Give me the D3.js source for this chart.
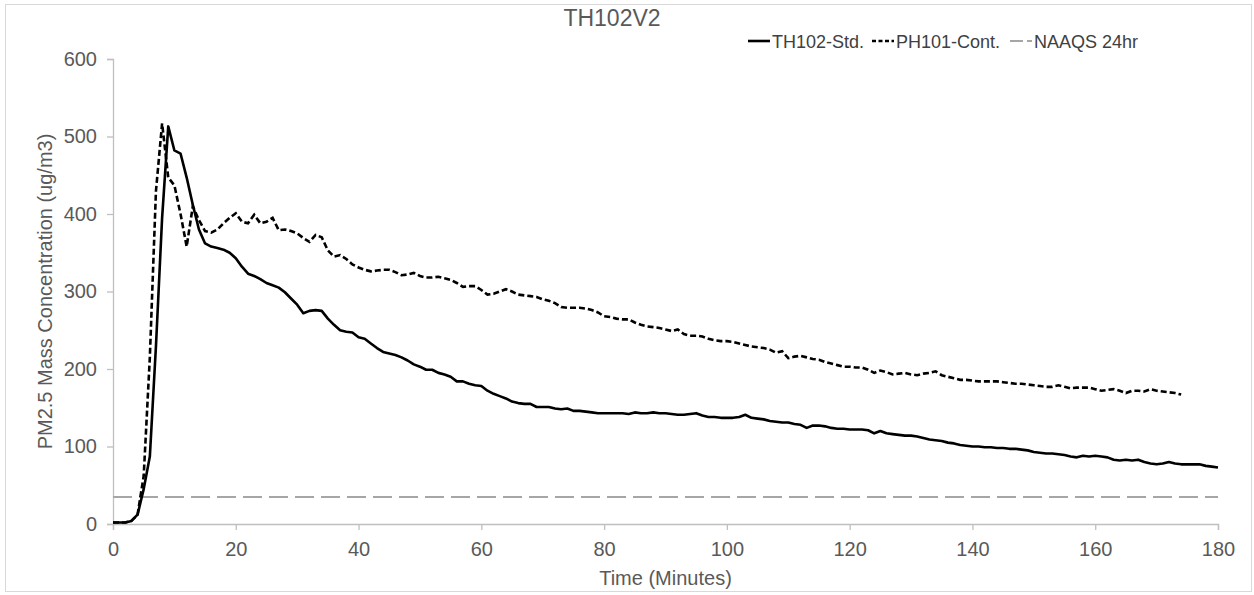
<!DOCTYPE html>
<html>
<head>
<meta charset="utf-8">
<script src="https://cdn.jsdelivr.net/npm/d3@7"></script>
<style>
    body { margin: 0; background: #fff; }
    svg { display: block; font-family: "Liberation Sans", Arial, sans-serif; }
</style>
</head>
<body>
<div id="chart"></div>
<script>
// Chart data (minutes, ug/m3)
const chartTitle = "TH102V2";
const xTicks = [0, 20, 40, 60, 80, 100, 120, 140, 160, 180];
const yTicks = [0, 100, 200, 300, 400, 500, 600];

// TH102-Std., one reading per minute from 0 to 180
const stdValues = [
    2, 2, 2, 4, 12, 45, 87, 230, 395, 513,
    482, 478, 447, 412, 380, 362, 358, 356, 354, 350,
    343, 332, 323, 320, 316, 311, 308, 305, 299, 291,
    283, 272, 275, 276, 275, 265, 257, 250, 248, 247,
    241, 239, 233, 227, 222, 220, 218, 215, 211, 206,
    203, 199, 199, 195, 193, 190, 184, 184, 181, 179,
    178, 172, 168, 165, 162, 158, 156, 155, 155, 151,
    151, 151, 149, 148, 149, 146, 146, 145, 144, 143,
    143, 143, 143, 143, 142, 144, 143, 143, 144, 143,
    143, 142, 141, 141, 142, 143, 140, 138, 138, 137,
    137, 137, 138, 141, 137, 136, 135, 133, 132, 131,
    131, 129, 128, 124, 127, 127, 126, 124, 123, 123,
    122, 122, 122, 121, 117, 120, 117, 116, 115, 114,
    114, 113, 111, 109, 108, 107, 105, 104, 102, 101,
    100, 100, 99, 99, 98, 98, 97, 97, 96, 95,
    93, 92, 91, 91, 90, 89, 87, 86, 88, 87,
    88, 87, 86, 83, 82, 83, 82, 83, 80, 78,
    77, 78, 80, 78, 77, 77, 77, 77, 75, 74,
    73
];

// PH101-Cont., one reading per minute from 0 to 174
const contValues = [
    2, 2, 2, 4, 12, 62, 215, 430, 517, 447,
    437, 400, 358, 410, 392, 378, 376, 380, 388, 395,
    401, 390, 388, 399, 388, 390, 395, 379, 380, 378,
    375, 369, 364, 373, 370, 353, 345, 347, 342, 335,
    331, 328, 326, 327, 328, 328, 325, 321, 322, 324,
    320, 318, 318, 319, 317, 315, 311, 306, 307, 307,
    302, 296, 297, 300, 303, 300, 296, 295, 294, 293,
    290, 288, 285, 280, 279, 279, 279, 278, 276, 273,
    268, 267, 265, 264, 264, 260, 257, 255, 254, 253,
    251, 249, 251, 245, 243, 243, 242, 239, 237, 236,
    236, 235, 233, 231, 229, 228, 227, 225, 221, 223,
    214, 216, 217, 215, 213, 212, 209, 207, 205, 203,
    203, 202, 202, 199, 195, 198, 196, 193, 194, 195,
    193, 192, 194, 195, 197, 192, 190, 188, 186, 186,
    185, 184, 184, 184, 184, 183, 182, 181, 181, 180,
    179, 178, 177, 177, 179, 177, 175, 176, 176, 176,
    174, 172, 173, 174, 172, 169, 172, 172, 171, 174,
    172, 171, 170, 169, 167
];

// NAAQS 24hr standard
const naaqsValue = 35;

const seriesNames = ["TH102-Std.", "PH101-Cont.", "NAAQS 24hr"];

const width = 1254;
const height = 595;
const margin = { top: 59, right: 36, bottom: 71, left: 113 };

const svg = d3.select("#chart")
    .append("svg")
    .attr("width", width)
    .attr("height", height);

// outer chart border
svg.append("rect")
    .attr("x", 5.5)
    .attr("y", 4.5)
    .attr("width", 1246)
    .attr("height", 587)
    .attr("fill", "none")
    .attr("stroke", "#d9d9d9");

const x = d3.scaleLinear()
    .domain([0, 180])
    .range([margin.left, width - margin.right]);

const y = d3.scaleLinear()
    .domain([0, 600])
    .range([height - margin.bottom, margin.top]);

// axes
const xAxis = svg.append("g")
    .attr("transform", `translate(0, ${y(0)})`)
    .call(d3.axisBottom(x).tickValues(xTicks).tickSize(6).tickPadding(12));

const yAxis = svg.append("g")
    .attr("transform", `translate(${x(0)}, 0)`)
    .call(d3.axisLeft(y).tickValues(yTicks).tickSize(6).tickPadding(10));

[xAxis, yAxis].forEach(ax => {
    ax.select(".domain").attr("stroke", "#bfbfbf").attr("stroke-width", 1.3);
    ax.selectAll(".tick line").attr("stroke", "#bfbfbf").attr("stroke-width", 1.3);
    ax.selectAll(".tick text")
        .attr("fill", "#595959")
        .attr("font-size", "20px")
        .attr("font-family", "Liberation Sans, Arial, sans-serif");
});

// NAAQS line
svg.append("line")
    .attr("x1", x(0))
    .attr("x2", x(180))
    .attr("y1", y(naaqsValue))
    .attr("y2", y(naaqsValue))
    .attr("stroke", "#a6a6a6")
    .attr("stroke-width", 2)
    .attr("stroke-dasharray", "19,7");

const line = d3.line()
    .x((d, i) => x(i))
    .y(d => y(d));

svg.append("path")
    .datum(contValues)
    .attr("d", line)
    .attr("fill", "none")
    .attr("stroke", "#000")
    .attr("stroke-width", 2.6)
    .attr("stroke-dasharray", "6,3");

svg.append("path")
    .datum(stdValues)
    .attr("d", line)
    .attr("fill", "none")
    .attr("stroke", "#000")
    .attr("stroke-width", 2.6)
    .attr("stroke-linejoin", "round");

// title
svg.append("text")
    .attr("x", 612)
    .attr("y", 26)
    .attr("text-anchor", "middle")
    .attr("font-size", "23px")
    .attr("fill", "#595959")
    .text(chartTitle);

// axis titles
svg.append("text")
    .attr("x", (x(0) + x(180)) / 2)
    .attr("y", 585)
    .attr("text-anchor", "middle")
    .attr("font-size", "20px")
    .attr("fill", "#595959")
    .text("Time (Minutes)");

svg.append("text")
    .attr("transform", `translate(52, ${(y(0) + y(600)) / 2}) rotate(-90)`)
    .attr("text-anchor", "middle")
    .attr("font-size", "20px")
    .attr("fill", "#595959")
    .text("PM2.5 Mass Concentration (ug/m3)");

// legend
const legendItems = [
    { name: seriesNames[0], x: 748, color: "#000", width: 2.6, dash: null },
    { name: seriesNames[1], x: 872, color: "#000", width: 2.6, dash: "4,2.5" },
    { name: seriesNames[2], x: 1010, color: "#a6a6a6", width: 2, dash: "13,4" }
];

const legend = svg.append("g").attr("transform", "translate(0, 41)");

legendItems.forEach(d => {
    legend.append("line")
        .attr("x1", d.x)
        .attr("x2", d.x + 22)
        .attr("y1", 0)
        .attr("y2", 0)
        .attr("stroke", d.color)
        .attr("stroke-width", d.width)
        .attr("stroke-dasharray", d.dash);
    legend.append("text")
        .attr("x", d.x + 24)
        .attr("y", 6.5)
        .attr("font-size", "18px")
        .attr("fill", "#404040")
        .text(d.name);
});
</script>
</body>
</html>
